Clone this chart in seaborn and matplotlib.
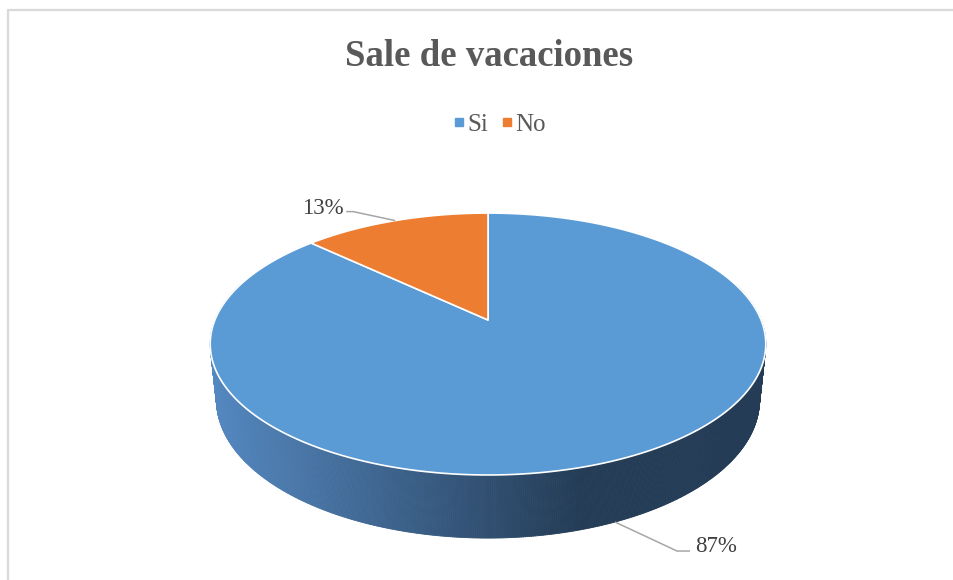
import numpy as np
import pandas as pd
import matplotlib
matplotlib.use('Agg')
import matplotlib.pyplot as plt
import seaborn as sns
from matplotlib.patches import Polygon
from matplotlib.collections import PolyCollection
from matplotlib.lines import Line2D

# Data
categories = ['Si', 'No']
values = [87, 13]
labels = ['87%', '13%']
colors = ['#5B9BD5', '#ED7D31']
title = 'Sale de vacaciones'

df = pd.DataFrame({'cat': categories, 'val': values, 'label': labels, 'color': colors})

sns.set_style('white')
plt.rcParams['font.family'] = ['Liberation Serif', 'DejaVu Serif']

W, H = 954, 580
fig = plt.figure(figsize=(W / 100, H / 100), dpi=100)
ax = fig.add_axes([0, 0, 1, 1])
ax.set_xlim(0, W)
ax.set_ylim(H, 0)
ax.axis('off')

# 3D perspective setup (pixel space)
cx, cy = 488, 320
alpha = np.arcsin(0.4634)
ca, sa = np.cos(alpha), np.sin(alpha)
D = 4.83
f = 1319
h = 0.233


def proj(theta, y=0.0, r=1.0):
    x = r * np.cos(theta)
    z = r * np.sin(theta)
    up = z * sa + y * ca
    depth = D + z * ca - y * sa
    return cx + f * x / depth, cy - f * up / depth


# slice angles: start at 12 o'clock, clockwise
fracs = df['val'] / df['val'].sum()
starts = np.pi / 2 - 2 * np.pi * np.concatenate([[0], np.cumsum(fracs)[:-1]])
ends = starts - 2 * np.pi * fracs.values


def side_color(x, base):
    if base == '#5B9BD5':
        c0 = np.array([84, 136, 192]) / 255
        c1 = np.array([36, 60, 86]) / 255
    else:
        c0 = np.array([200, 105, 40]) / 255
        c1 = np.array([110, 55, 20]) / 255
    t = np.clip((x - 212) / (580 - 212), 0, 1)
    return c0 * (1 - t) + c1 * t


# side wall (front part)
ths = np.linspace(np.pi - 0.3, 2 * np.pi + 0.3, 600)
quads, qcols = [], []
for a, b in zip(ths[:-1], ths[1:]):
    m = (a + b) / 2
    # which slice owns this angle
    mm = (m - np.pi / 2) % (2 * np.pi) - 2 * np.pi
    owner = 0
    for i in range(len(df)):
        s_ = starts[i] - np.pi / 2
        e_ = ends[i] - np.pi / 2
        if e_ <= mm <= s_:
            owner = i
    p1 = proj(a, 0)
    p2 = proj(b, 0)
    p3 = proj(b, -h)
    p4 = proj(a, -h)
    quads.append([p1, p2, p3, p4])
    qcols.append(side_color((p1[0] + p2[0]) / 2, df['color'][owner]))
pc = PolyCollection(quads, facecolors=qcols, edgecolors=qcols, linewidths=0.6)
ax.add_collection(pc)

# top face slices
for i, row in df.iterrows():
    t = np.linspace(starts[i], ends[i], 300)
    xs, ys = proj(t, 0)
    pts = np.column_stack([np.r_[cx, xs], np.r_[cy, ys]])
    ax.add_patch(Polygon(pts, closed=True, facecolor=row['color'],
                         edgecolor='white', linewidth=1.2, joinstyle='round'))

# data labels with leader lines
label_offsets = {
    'Si': dict(y=-h, pts=[(62, 29), (75, 29)], text=(80, 30), ha='left'),
    'No': dict(y=0.0, pts=[(-42, -9), (-49, -9)], text=(-52, -7), ha='right'),
}
for i, row in df.iterrows():
    mid = (starts[i] + ends[i]) / 2
    o = label_offsets[row['cat']]
    axp, ayp = proj(mid, o['y'])
    lx = [axp] + [axp + dx for dx, dy in o['pts']]
    ly = [ayp] + [ayp + dy for dx, dy in o['pts']]
    ax.plot(lx, ly, color='#A6A6A6', lw=1.1, solid_capstyle='butt')
    ax.text(axp + o['text'][0], ayp + o['text'][1], row['label'], ha=o['ha'],
            va='baseline', fontsize=16.5, color='#404040')

# title
ax.text(489, 66, title, ha='center', va='baseline', fontsize=26.5,
        fontweight='bold', color='#595959')

# legend
handles = [Line2D([0], [0], marker='s', linestyle='none', markersize=5.5,
                  markerfacecolor=c, markeredgecolor=c) for c in df['color']]
leg = ax.legend(handles, df['cat'], loc='center', ncol=2, frameon=False,
                bbox_to_anchor=(498 / W, 1 - 125 / H), bbox_transform=fig.transFigure,
                fontsize=18, handletextpad=0.0, columnspacing=0.4, handlelength=0.7)
for t in leg.get_texts():
    t.set_color('#595959')

# chart border (top and left visible)
ax.plot([8, W], [9.5, 9.5], color='#D9D9D9', lw=1.6)
ax.plot([8, 8], [9.5, H], color='#D9D9D9', lw=1.6)

fig.savefig('out.png', dpi=100)
